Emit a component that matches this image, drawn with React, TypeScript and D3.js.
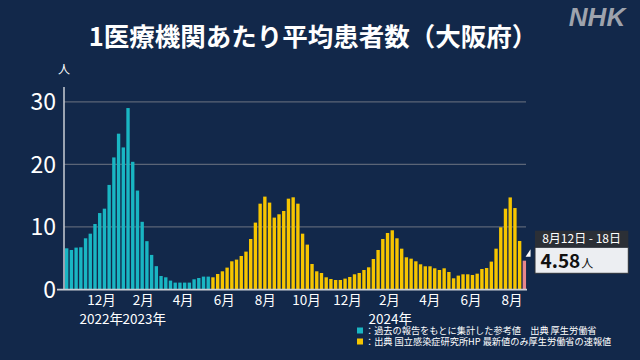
import React from "react";
import * as d3 from "d3";

// ---- data ----
const firstWeek = new Date(2022, 9, 3); // week of 2022-10-03
// reference values (MHLW, aggregated from past reports)
const tealValues = [
  6.56, 6.29, 6.67, 6.72, 8.16, 8.9, 10.45, 12.2, 12.9, 16.7, 21.1, 24.9, 22.7, 29.0,
  20.4, 15.8, 10.8, 7.7, 5.5, 3.7, 2.13, 1.92, 1.39, 1.07, 1.07, 1.07, 1.07, 1.6, 1.81,
  2.03, 2.03,
];
// NIID values
const yellowValues = [
  1.92, 2.45, 2.88, 3.47, 4.48, 4.75, 5.33, 6.03, 8.05, 10.67, 13.7, 14.83, 13.87, 11.47,
  12.0, 12.53, 14.5, 14.72, 13.7, 8.9, 7.15, 4.05, 2.88, 2.61, 1.92, 1.65, 1.49, 1.49,
  1.71, 1.97, 2.4, 2.61, 3.09, 3.52, 4.85, 6.29, 8.05, 9.01, 9.44, 8.16, 6.5, 5.12, 4.9,
  4.48, 4.0, 3.68, 3.68, 3.36, 3.09, 3.36, 2.77, 1.76, 2.19, 2.4, 2.4, 2.29, 2.5, 3.25,
  3.41, 4.43, 6.5, 9.92, 12.9, 14.7, 13.0, 7.73,
];
// latest preliminary value
const latestValue = 4.58;
const latestLabel = "8月12日 - 18日";

const monthTicks = [
  new Date(2022, 11, 1), new Date(2023, 1, 1), new Date(2023, 3, 1), new Date(2023, 5, 1),
  new Date(2023, 7, 1), new Date(2023, 9, 1), new Date(2023, 11, 1), new Date(2024, 1, 1),
  new Date(2024, 3, 1), new Date(2024, 5, 1), new Date(2024, 7, 1),
];
const yTicks = [0, 10, 20, 30];
const yearLabels = ["2022年", "2023年", "2024年"];
const yearDates = [new Date(2023, 0, 1), new Date(2023, 0, 1), new Date(2024, 0, 1)];

const title = "1医療機関あたり平均患者数（大阪府）";
const legendTeal = "：過去の報告をもとに集計した参考値　出典 厚生労働省";
const legendYellow = "：出典 国立感染症研究所HP 最新値のみ厚生労働省の速報値";

// ---- styles ----
const W = 640;
const H = 360;
const BG = "#12284a";
const TEAL = "#19b6c3";
const YELLOW = "#f6c500";
const PINK = "#e8868b";
const FONT = "'Noto Sans CJK JP', 'Noto Sans', sans-serif";

export default function App() {
  const values = [...tealValues, ...yellowValues, latestValue];
  const n = values.length;
  const dates = values.map((_, i) => d3.timeDay.offset(firstWeek, 7 * i));
  const endDate = d3.timeDay.offset(firstWeek, 7 * n);

  const x = d3.scaleTime().domain([firstWeek, endDate]).range([64.3, 526.7]);
  const y = d3.scaleLinear().domain([0, 30]).range([289.3, 101.8]);

  const colorOf = (i: number) =>
    i < tealValues.length ? TEAL : i === n - 1 ? PINK : YELLOW;

  const lastX = x(dates[n - 1]);

  return (
    <svg
      width={W}
      height={H}
      viewBox={`0 0 ${W} ${H}`}
      style={{ position: "absolute", left: 0, top: 0, display: "block" }}
      fontFamily={FONT}
    >
      <rect x={0} y={0} width={W} height={H} fill={BG} />

      {/* NHK logo */}
      <text
        x={597}
        y={26}
        textAnchor="middle"
        fill="#9ea3ad"
        fontFamily="'Liberation Sans', Arial, sans-serif"
        fontWeight={900}
        fontStyle="italic"
        fontSize={26}
      >
        NHK
      </text>

      {/* title */}
      <text x={313} y={46} textAnchor="middle" fill="#ffffff" fontWeight={700} fontSize={25.5}>
        {title}
      </text>

      {/* unit */}
      <text x={64} y={74} textAnchor="middle" fill="#ffffff" fontSize={12}>
        人
      </text>

      {/* gridlines */}
      {yTicks
        .filter((t) => t > 0)
        .map((t) => (
          <line key={t} x1={64} x2={526} y1={y(t)} y2={y(t)} stroke="#5b6577" strokeWidth={1.3} />
        ))}

      {/* y tick labels */}
      {yTicks.map((t) => (
        <text
          key={t}
          x={56}
          y={y(t)}
          dy="0.36em"
          textAnchor="end"
          fill="#ffffff"
          fontSize={23}
        >
          {t}
        </text>
      ))}

      {/* bars */}
      {values.map((v, i) => {
        const x0 = x(dates[i]);
        const x1 = i + 1 < n ? x(dates[i + 1]) : x(endDate);
        return (
          <rect
            key={i}
            x={x0 + 0.7}
            width={x1 - x0 - 1.35}
            y={y(v)}
            height={y(0) - y(v)}
            fill={colorOf(i)}
          />
        );
      })}

      {/* axes */}
      <line x1={64} x2={64} y1={87} y2={289.5} stroke="#c9cdd4" strokeWidth={1.5} />
      <line x1={57} x2={527} y1={289.6} y2={289.6} stroke="#c9cdd4" strokeWidth={1.6} />

      {/* month labels */}
      {monthTicks.map((d, i) => (
        <text
          key={i}
          x={x(d) - 2.5}
          y={300.5}
          dy="0.35em"
          textAnchor="middle"
          fill="#ffffff"
          fontSize={13.5}
        >
          {`${d.getMonth() + 1}月`}
        </text>
      ))}

      {/* year labels */}
      {yearLabels.map((lab, i) => (
        <text
          key={lab}
          x={i === 0 ? x(yearDates[i]) - 2 : x(yearDates[i]) - 2.5}
          y={319}
          dy="0.35em"
          textAnchor={i === 0 ? "end" : "start"}
          fill="#ffffff"
          fontSize={13.5}
        >
          {lab}
        </text>
      ))}

      {/* legend */}
      <rect x={357} y={327.5} width={6} height={6} fill={TEAL} />
      <text x={365} y={330.5} dy="0.35em" fill="#ffffff" fontSize={9.2}>
        {legendTeal}
      </text>
      <rect x={357} y={338.5} width={6} height={6} fill={YELLOW} />
      <text x={365} y={341.5} dy="0.35em" fill="#ffffff" fontSize={9.2}>
        {legendYellow}
      </text>

      {/* callout */}
      <g>
        <path
          d={`M${lastX + 8.6},249.3 L${lastX + 8.6},256.7 L${lastX + 3.6},256.7 Z`}
          fill="#ffffff"
        />
        <rect x={535} y={230.7} width={93.3} height={16.6} fill="#2b2f36" />
        <text x={581.6} y={239} dy="0.36em" textAnchor="middle" fill="#ffffff" fontSize={12}>
          {latestLabel}
        </text>
        <rect
          x={535}
          y={247.3}
          width={93.3}
          height={26}
          fill="#eceef2"
          stroke="#2b2f36"
          strokeWidth={1}
        />
        <text x={540.5} y={268.3} fill="#111111" fontWeight={700} fontSize={19}>
          {latestValue.toFixed(2)}
          <tspan fontSize={12} fontWeight={400} dx={1}>
            人
          </tspan>
        </text>
      </g>
    </svg>
  );
}
